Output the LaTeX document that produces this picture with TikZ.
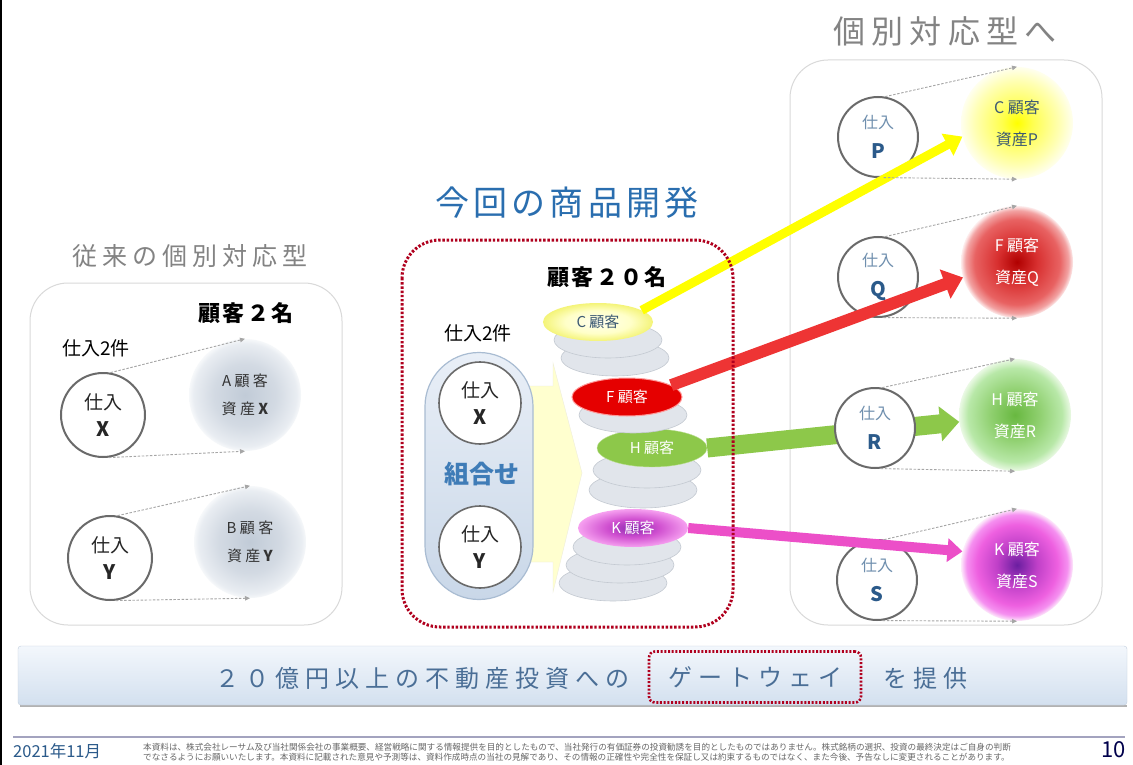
\documentclass[tikz,border=0pt]{standalone}
\usepackage{fontspec}
\setmainfont{Noto Sans CJK JP}
\newfontfamily\wideA[LetterSpace=20]{Noto Sans CJK JP}
\newfontfamily\wideB[LetterSpace=12]{Noto Sans CJK JP}
\newfontfamily\wideC[LetterSpace=25]{Noto Sans CJK JP}
\newfontfamily\wideD[LetterSpace=10]{Noto Sans CJK JP}
\usetikzlibrary{shapes.geometric,arrows.meta}
\newcommand\fsz[1]{\fontsize{#1}{#1}\selectfont}
\definecolor{ttlgray}{HTML}{838383}
\definecolor{ttlblue}{HTML}{2A6EAF}
\definecolor{panelgray}{HTML}{D9D9D9}
\definecolor{circline}{HTML}{6A6A6A}
\definecolor{dotred}{HTML}{B0001E}
\definecolor{slate}{HTML}{3D5A73}
\definecolor{pblue}{HTML}{2B5A8A}
\definecolor{plight}{HTML}{6F8FAE}
\definecolor{bantext}{HTML}{4A6E96}
\definecolor{arrY}{HTML}{FFFF00}
\definecolor{arrR}{HTML}{EE3434}
\definecolor{arrG}{HTML}{8DC84A}
\definecolor{arrK}{HTML}{EC4FC8}
\definecolor{capline}{HTML}{A9BCD2}
\definecolor{captop}{HTML}{E9EFF7}
\definecolor{capbot}{HTML}{C9D7E8}
\definecolor{discfill}{HTML}{E1E5EB}
\definecolor{discline}{HTML}{C3C9D1}
\definecolor{bantop}{HTML}{F3F7FC}
\definecolor{banbot}{HTML}{D3E0EF}
\definecolor{banline}{HTML}{C2CFDE}
\definecolor{chev}{HTML}{FFFFCF}
% ball shadings (edge of the shaded shape = 25bp)
\definecolor{aA0}{HTML}{C1CBD7}\definecolor{aA1}{HTML}{D3DAE3}\definecolor{aA2}{HTML}{E9EDF2}\definecolor{aA3}{HTML}{F6F8FA}
\definecolor{cC0}{HTML}{FFFF00}\definecolor{cC1}{HTML}{FFFF50}\definecolor{cC2}{HTML}{FFFFB4}\definecolor{cC3}{HTML}{FFFFEE}
\definecolor{fF0}{HTML}{B00000}\definecolor{fF1}{HTML}{D83030}\definecolor{fF2}{HTML}{E86262}\definecolor{fF3}{HTML}{F2A2A2}\definecolor{fF4}{HTML}{FDECEC}
\definecolor{hH0}{HTML}{68B840}\definecolor{hH1}{HTML}{90D070}\definecolor{hH2}{HTML}{B8E8A8}\definecolor{hH3}{HTML}{EAF9E4}
\definecolor{kK0}{HTML}{6A1EA0}\definecolor{kK1}{HTML}{C040C8}\definecolor{kK2}{HTML}{EE60E0}\definecolor{kK3}{HTML}{F590F0}\definecolor{kK4}{HTML}{FDEAFB}
\definecolor{dc0}{HTML}{FFFFF0}\definecolor{dc1}{HTML}{FFFFC8}\definecolor{dc2}{HTML}{F4F478}
\definecolor{dk0}{HTML}{8A2AB0}\definecolor{dk1}{HTML}{D050D0}\definecolor{dk2}{HTML}{F6A0F0}
\pgfdeclareradialshading{ballA}{\pgfpoint{0bp}{0bp}}{color(0bp)=(aA0); color(14bp)=(aA1); color(23bp)=(aA2); color(25bp)=(aA3); color(50bp)=(aA3)}
\pgfdeclareradialshading{ballC}{\pgfpoint{0bp}{0bp}}{color(0bp)=(cC0); color(7bp)=(cC1); color(19bp)=(cC2); color(25bp)=(cC3); color(50bp)=(cC3)}
\pgfdeclareradialshading{ballF}{\pgfpoint{0bp}{0bp}}{color(0bp)=(fF0); color(9bp)=(fF1); color(19bp)=(fF2); color(23bp)=(fF3); color(25bp)=(fF4); color(50bp)=(fF4)}
\pgfdeclareradialshading{ballH}{\pgfpoint{0bp}{0bp}}{color(0bp)=(hH0); color(11bp)=(hH1); color(21bp)=(hH2); color(25bp)=(hH3); color(50bp)=(hH3)}
\pgfdeclareradialshading{ballK}{\pgfpoint{0bp}{0bp}}{color(0bp)=(kK0); color(9bp)=(kK1); color(18bp)=(kK2); color(22.5bp)=(kK3); color(25bp)=(kK4); color(50bp)=(kK4)}
\pgfdeclareradialshading{discC}{\pgfpoint{0bp}{0bp}}{color(0bp)=(dc0); color(15bp)=(dc1); color(25bp)=(dc2); color(50bp)=(dc2)}
\pgfdeclareradialshading{discK}{\pgfpoint{0bp}{0bp}}{color(0bp)=(dk0); color(12bp)=(dk1); color(25bp)=(dk2); color(50bp)=(dk2)}
\begin{document}
\begin{tikzpicture}[x=1pt,y=-1pt,
  panel/.style={draw=panelgray, line width=1pt, rounded corners=38pt},
  circL/.style={circle, draw=circline, line width=2pt, fill=white, minimum size=84pt, inner sep=0pt, align=center, font=\fontsize{19}{27}\selectfont, text=black!85},
  circR/.style={circle, draw=circline, line width=2pt, fill=white, minimum size=80pt, inner sep=0pt, align=center, font=\fontsize{16}{30}\selectfont},
  ballL/.style={circle, minimum size=112pt, inner sep=0pt, align=center, font=\fontsize{15}{28}\selectfont, text=black!80},
  ballR/.style={circle, minimum size=112pt, inner sep=0pt, align=center, font=\fontsize{16}{32}\selectfont},
  gdisc/.style={ellipse, minimum width=108pt, minimum height=36pt, inner sep=0pt, fill=discfill, draw=discline, line width=0.6pt},
  cdisc/.style={ellipse, minimum width=110pt, minimum height=38pt, inner sep=0pt, font=\fontsize{15}{15}\selectfont},
  dasharrow/.style={draw=black!35, line width=0.9pt, dash pattern=on 2.5pt off 1.6pt, -{Triangle[length=5pt,width=4.5pt]}},
  reddot/.style={draw=dotred, line width=3pt, dash pattern=on 2.4pt off 1.8pt}
]
\useasboundingbox (0,0) rectangle (1133,765);
\fill[white] (0,0) rectangle (1133,765);
\draw[black, line width=2pt] (1,0) -- (1,765);

% ---------- titles
\node[text=ttlgray] (tR) at (945,31) {\wideA\fsz{32}個別対応型へ};
\node[text=ttlgray] (tL) at (190,256) {\wideA\fsz{25}従来の個別対応型};
\node[text=ttlblue] (tC) at (567,203) {\wideB\fsz{34}今回の商品開発};

% ---------- left panel
\draw[panel] (30,283) rectangle (342,625);
\node (n2L) at (246,313) {\bfseries\wideD\fsz{22}顧客２名};
\node (k2L) at (96,348) {\fsz{19}仕入2件};
\node[circL] (sX) at (103,415) {仕入\\{\bfseries\fsz{20}X}};
\node[circL] (sY) at (110,558) {仕入\\{\bfseries\fsz{20}Y}};
\node[ballL, shading=ballA] (bA) at (245,395) {A 顧 客\\資 産 \textbf{X}};
\node[ballL, shading=ballA] (bB) at (250,542) {B 顧 客\\資 産 \textbf{Y}};
\draw[dasharrow] (sX.80) -- (bA.north);
\draw[dasharrow] (sX.-82) -- (bA.south);
\draw[dasharrow] (sY.80) -- (bB.north);
\draw[dasharrow] (sY.-82) -- (bB.south);

% ---------- center panel
\node (n20) at (607,277) {\bfseries\wideD\fsz{22}顧客２０名};
\node (k2C) at (478,333) {\fsz{19}仕入2件};
\fill[fill=chev, draw=yellow!50!black!15] (520,386) -- (553,386) -- (553,363) -- (582,473) -- (553,592) -- (553,562) -- (520,562) -- cycle;
\node[draw=capline, line width=1.2pt, rounded corners=54pt, minimum width=108pt, minimum height=247pt, top color=captop, bottom color=capbot, inner sep=0pt] (cap) at (479,476) {};
\node[circL, minimum size=82pt, line width=1.6pt] (cX) at (480,403) {仕入\\{\bfseries\fsz{20}X}};
\node[text=ttlblue!90!white] (kumi) at (482,474) {\bfseries\fsz{25}組合せ};
\node[circL, minimum size=82pt, line width=1.6pt] (cY) at (480,547) {仕入\\{\bfseries\fsz{20}Y}};

% disc stack (drawn bottom to top)
\node[gdisc] (g8) at (613,583) {};
\node[gdisc] (g7) at (620,565) {};
\node[gdisc] (g6) at (627,547) {};
\node[cdisc, shading=discK, text=white] (dK) at (633,528) {K 顧客};
\node[gdisc] (g5) at (643,490) {};
\node[gdisc] (g4) at (647,470) {};
\node[cdisc, fill=arrG, draw=arrG!60!white, text=white] (dH) at (652,448) {H 顧客};
\node[gdisc] (g3) at (633,415) {};
\node[cdisc, fill=red!90!black, draw=red!40!white, line width=1pt, text=white] (dF) at (627,397) {F 顧客};
\node[gdisc] (g2) at (615,358) {};
\node[gdisc] (g1) at (608,340) {};
\node[cdisc, shading=discC, text=slate] (dC) at (598,322) {C 顧客};

% ---------- right panel
\draw[panel] (790,60) rectangle (1102,625);
\node[circR] (sP) at (878,137) {\textcolor{plight}{仕入}\\{\bfseries\fsz{20}\textcolor{pblue}{P}}};
\node[circR] (sQ) at (878,277) {\textcolor{plight}{仕入}\\{\bfseries\fsz{20}\textcolor{pblue}{Q}}};
\node[circR] (sS) at (877,580) {\textcolor{plight}{仕入}\\{\bfseries\fsz{20}\textcolor{pblue}{S}}};
\node[ballR, shading=ballC, text=slate] (cC) at (1017,123) {C 顧客\\資産P};
\node[ballR, shading=ballF, text=white] (cF) at (1017,262) {F 顧客\\資産Q};
\node[ballR, shading=ballH, text=white] (cH) at (1015,415) {H 顧客\\資産R};
\node[ballR, shading=ballK, text=white] (cK) at (1017,565) {K 顧客\\資産S};

% ---------- thick coloured arrows
\draw[arrY, line width=9pt, -{Triangle[length=17pt,width=24pt]}] (dC.15) -- (cC.194);
\draw[arrR, line width=12pt, -{Triangle[length=19pt,width=30pt]}] (dF.15) -- (cF.196);
\draw[arrK, line width=10pt, -{Triangle[length=15pt,width=23pt]}] (dK.east) -- (cK.166);
\draw[arrG, line width=19pt, -{Triangle[length=19pt,width=34pt]}] (dH.east) -- (cH.187);
\node[circR] (sR) at (875,428) {\textcolor{plight}{仕入}\\{\bfseries\fsz{20}\textcolor{pblue}{R}}};

\draw[dasharrow] (sP.80) -- (cC.north);
\draw[dasharrow] (sP.-82) -- (cC.south);
\draw[dasharrow] (sQ.80) -- (cF.north);
\draw[dasharrow] (sQ.-82) -- (cF.south);
\draw[dasharrow] (sR.80) -- (cH.north);
\draw[dasharrow] (sR.-82) -- (cH.south);
\draw[dasharrow] (sS.80) -- (cK.north);
\draw[dasharrow] (sS.-82) -- (cK.south);

% red dotted frame
\draw[reddot, rounded corners=38pt] (402,240) rectangle (733,627);

% ---------- banner
\draw[black!30, line width=2pt] (20,706) -- (1127,706);
\shade[top color=bantop, bottom color=banbot, draw=banline, rounded corners=3pt] (18,646) rectangle (1127,705);
\node[text=bantext] (ban1) at (422,678) {\wideC\fsz{24}２０億円以上の不動産投資への};
\node[text=bantext, draw=dotred, line width=2.6pt, dash pattern=on 2pt off 1.7pt, rounded corners=6pt, minimum width=212pt, minimum height=51pt, inner sep=0pt] (gw) at (755,677) {\wideC\fsz{24}ゲートウェイ};
\node[text=bantext] (ban2) at (925,678) {\wideC\fsz{24}を提供};

% ---------- footer
\draw[black!10!blue!20!gray!60, line width=1.5pt] (13,737) -- (1125,737);
\node[anchor=west, text=pblue, inner sep=0pt] (date) at (13,751) {\fsz{16.5}2021年11月};
\node[anchor=west, text=black!60, inner sep=0pt] (disc1) at (143,747) {\fsz{8.6}本資料は、株式会社レーサム及び当社関係会社の事業概要、経営戦略に関する情報提供を目的としたもので、当社発行の有価証券の投資勧誘を目的としたものではありません。株式銘柄の選択、投資の最終決定はご自身の判断};
\node[anchor=west, text=black!60, inner sep=0pt] (disc2) at (143,757.5) {\fsz{8.6}でなさるようにお願いいたします。本資料に記載された意見や予測等は、資料作成時点の当社の見解であり、その情報の正確性や完全性を保証し又は約束するものではなく、また今後、予告なしに変更されることがあります。};
\node[anchor=east, text=black!70!blue, inner sep=0pt] (pg) at (1126,750) {\fsz{22}10};
\end{tikzpicture}
\end{document}
